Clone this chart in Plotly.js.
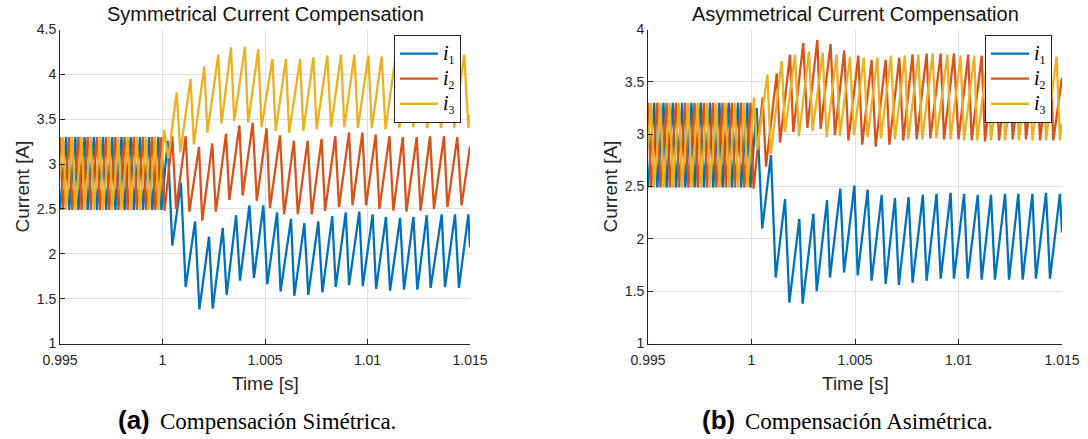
<!DOCTYPE html>
<html>
<head>
<meta charset="utf-8">
<script src="https://cdn.plot.ly/plotly-3.0.1.min.js"></script>
<style>
  html, body { margin: 0; padding: 0; background: #ffffff; }
  #chart { width: 1088px; height: 439px; }
</style>
</head>
<body>
<div id="chart"></div>
<script>
// Steady state before the compensation step at t = 1 s (identical in both cases).
const preTimeI1 = [0.995,0.9953,0.99545,0.99575,0.9959,0.9962,0.99635,0.99665,0.9968,0.9971,0.99725,0.99755,0.9977,0.998,0.99815,0.99845,0.9986,0.9989,0.99905,0.99935,0.9995,0.9998,0.99995];
const preI1     = [2.49,3.30,2.49,3.30,2.49,3.30,2.49,3.30,2.49,3.30,2.49,3.30,2.49,3.30,2.49,3.30,2.49,3.30,2.49,3.30,2.49,3.30,2.49];

const preTimeI2 = [0.995,0.99515,0.99545,0.9956,0.9959,0.99605,0.99635,0.9965,0.9968,0.99695,0.99725,0.9974,0.9977,0.99785,0.99815,0.9983,0.9986,0.99875,0.99905,0.9992,0.9995,0.99965,0.99995,1.0001];
const preI2     = [3.30,2.49,3.30,2.49,3.30,2.49,3.30,2.49,3.30,2.49,3.30,2.49,3.30,2.49,3.30,2.49,3.30,2.49,3.30,2.49,3.30,2.49,3.30,2.48];

const preTimeI3 = [0.995,0.99515,0.9953,0.9956,0.99575,0.99605,0.9962,0.9965,0.99665,0.99695,0.9971,0.9974,0.99755,0.99785,0.998,0.9983,0.99845,0.99875,0.9989,0.9992,0.99935,0.99965,0.9998];
const preI3     = [2.89,3.30,2.49,3.30,2.49,3.30,2.49,3.30,2.49,3.30,2.49,3.30,2.49,3.30,2.49,3.30,2.49,3.30,2.49,3.30,2.49,3.30,2.49];

// Symmetrical compensation, t >= 1 s
const symTimeI1 = [1.00025,1.00048,1.0009,1.00113,1.00159,1.0018,1.00227,1.00245,1.00294,1.00313,1.00359,1.00378,1.00424,1.00446,1.00492,1.00511,1.00559,1.00576,1.00627,1.00643,1.00692,1.00711,1.0076,1.0078,1.00828,1.00845,1.00894,1.0091,1.0096,1.00977,1.01025,1.01042,1.0109,1.0111,1.01159,1.01178,1.01224,1.01243,1.01289,1.01308,1.01362,1.01378,1.01427,1.01446,1.01492,1.015];
const symI1     = [3.26,2.09,2.79,1.63,2.36,1.38,2.19,1.39,2.29,1.54,2.43,1.70,2.54,1.73,2.54,1.66,2.46,1.58,2.39,1.53,2.34,1.54,2.36,1.57,2.42,1.63,2.46,1.65,2.47,1.64,2.44,1.61,2.41,1.59,2.40,1.60,2.41,1.60,2.43,1.62,2.44,1.63,2.44,1.62,2.44,2.07];

const symTimeI2 = [1.00048,1.00066,1.00113,1.00131,1.00178,1.00194,1.00243,1.0026,1.0031,1.00326,1.00375,1.00391,1.0044,1.0046,1.00508,1.00524,1.00573,1.00593,1.00641,1.0066,1.00708,1.00728,1.00776,1.00793,1.00843,1.00861,1.0091,1.00927,1.00975,1.00993,1.0104,1.01058,1.01107,1.01126,1.01172,1.0119,1.0124,1.01259,1.01305,1.01324,1.01373,1.0139,1.01438,1.01459,1.015];
const symI2     = [3.31,2.50,3.31,2.47,3.19,2.37,3.23,2.47,3.34,2.60,3.43,2.65,3.46,2.59,3.40,2.51,3.32,2.44,3.26,2.44,3.26,2.44,3.28,2.48,3.31,2.52,3.35,2.54,3.35,2.54,3.33,2.50,3.31,2.48,3.30,2.47,3.30,2.48,3.31,2.50,3.31,2.52,3.30,2.54,3.20];

const symTimeI3 = [1.00008,1.00028,1.00069,1.00087,1.00137,1.00153,1.00204,1.00219,1.00272,1.00288,1.00334,1.0035,1.00402,1.00418,1.00467,1.00483,1.00536,1.00552,1.00602,1.00618,1.00671,1.00687,1.00736,1.00752,1.00804,1.00822,1.00871,1.00887,1.00936,1.00953,1.01004,1.01021,1.01069,1.01088,1.01137,1.01155,1.01204,1.01223,1.01272,1.01291,1.01337,1.01358,1.01406,1.01423,1.01472,1.01492,1.015];
const symI3     = [3.38,3.06,3.80,3.13,3.95,3.22,4.09,3.35,4.22,3.45,4.30,3.48,4.31,3.46,4.28,3.41,4.17,3.37,4.17,3.35,4.17,3.37,4.19,3.39,4.21,3.41,4.22,3.41,4.22,3.40,4.21,3.40,4.20,3.39,4.20,3.40,4.21,3.41,4.21,3.40,4.22,3.40,4.20,3.40,4.22,3.40,3.55];

// Asymmetrical compensation, t >= 1 s
const asymTimeI1 = [1.00025,1.00052,1.00094,1.00117,1.00162,1.00183,1.00231,1.00247,1.00299,1.00315,1.00365,1.00379,1.00429,1.00447,1.00497,1.00513,1.00561,1.0058,1.00629,1.00648,1.00693,1.00712,1.00759,1.00778,1.00828,1.00846,1.00894,1.00914,1.00962,1.00978,1.01027,1.01044,1.01093,1.01112,1.01157,1.01176,1.01225,1.01244,1.01289,1.0131,1.01357,1.01374,1.01423,1.01442,1.0149,1.015];
const asymI1     = [3.25,2.10,2.80,1.63,2.38,1.39,2.19,1.38,2.24,1.50,2.37,1.63,2.48,1.68,2.51,1.65,2.47,1.60,2.42,1.57,2.39,1.56,2.40,1.58,2.42,1.60,2.43,1.62,2.44,1.62,2.43,1.62,2.42,1.61,2.42,1.61,2.43,1.61,2.43,1.61,2.43,1.62,2.44,1.62,2.43,2.06];

const asymTimeI2 = [1.00054,1.0007,1.00122,1.00138,1.00186,1.00202,1.0025,1.0027,1.00318,1.00334,1.00382,1.00403,1.00448,1.00468,1.00516,1.00535,1.0058,1.006,1.00648,1.00666,1.00714,1.00733,1.00778,1.00798,1.00846,1.00864,1.00914,1.0093,1.00978,1.01,1.01047,1.01064,1.01112,1.01128,1.01176,1.01196,1.01244,1.01262,1.0131,1.01326,1.01374,1.01394,1.01442,1.01458,1.015];
const asymI2     = [3.35,2.69,3.58,2.92,3.76,3.02,3.87,3.06,3.90,3.05,3.86,2.99,3.80,2.94,3.75,2.90,3.71,2.88,3.71,2.90,3.73,2.94,3.76,2.95,3.77,2.96,3.77,2.95,3.77,2.95,3.76,2.94,3.75,2.93,3.76,2.94,3.76,2.95,3.76,2.95,3.76,2.94,3.76,2.94,3.54];

const asymTimeI3 = [1.00012,1.00027,1.00077,1.00093,1.00146,1.00162,1.0021,1.00229,1.00278,1.00295,1.00344,1.00363,1.00411,1.00427,1.00476,1.00495,1.00543,1.00561,1.00608,1.00625,1.00674,1.00693,1.00741,1.00757,1.00806,1.00825,1.00875,1.00893,1.00946,1.00962,1.0101,1.01027,1.01076,1.01091,1.01141,1.01157,1.01208,1.01225,1.01273,1.01292,1.01341,1.01357,1.01406,1.01423,1.01474,1.0149,1.015];
const asymI3     = [3.35,2.85,3.57,2.81,3.70,3.02,3.76,2.98,3.79,3.03,3.78,2.97,3.76,2.98,3.74,2.99,3.73,2.97,3.73,2.96,3.75,2.95,3.75,2.95,3.76,2.95,3.77,2.96,3.76,2.95,3.75,2.94,3.75,2.94,3.74,2.94,3.75,2.94,3.75,2.94,3.74,2.94,3.74,2.94,3.74,2.94,3.10];

// Series names, colours and tick labels
const seriesNames  = [
  '<span style="font-size:20px"><i>i</i></span><sub>1</sub>',
  '<span style="font-size:20px"><i>i</i></span><sub>2</sub>',
  '<span style="font-size:20px"><i>i</i></span><sub>3</sub>'
];
const seriesColors = ['#0072BD', '#D95319', '#EDB120'];
const timeTicks     = [0.995, 1, 1.005, 1.01, 1.015];
const timeTickText  = ['0.995', '1', '1.005', '1.01', '1.015'];
const symCurrentTicks  = [1, 1.5, 2, 2.5, 3, 3.5, 4, 4.5];
const symCurrentText   = ['1', '1.5', '2', '2.5', '3', '3.5', '4', '4.5'];
const asymCurrentTicks = [1, 1.5, 2, 2.5, 3, 3.5, 4];
const asymCurrentText  = ['1', '1.5', '2', '2.5', '3', '3.5', '4'];
const panelTitles   = ['Symmetrical Current Compensation', 'Asymmetrical Current Compensation'];
const panelLetters  = ['(a)', '(b)'];
const panelCaptions = ['Compensación Simétrica.', 'Compensación Asimétrica.'];

const W = 1088, H = 439;
const px = v => v / W;           // horizontal pixel -> paper
const py = v => (H - v) / H;     // vertical pixel (from top) -> paper

const SANS = 'Liberation Sans, Arial, Helvetica, sans-serif';
const SERIF = 'Liberation Serif, Times New Roman, serif';
const INK = '#262626';

const symSeries = [
  [preTimeI1.concat(symTimeI1), preI1.concat(symI1)],
  [preTimeI2.concat(symTimeI2), preI2.concat(symI2)],
  [preTimeI3.concat(symTimeI3), preI3.concat(symI3)]
];
const asymSeries = [
  [preTimeI1.concat(asymTimeI1), preI1.concat(asymI1)],
  [preTimeI2.concat(asymTimeI2), preI2.concat(asymI2)],
  [preTimeI3.concat(asymTimeI3), preI3.concat(asymI3)]
];

const traces = [];
symSeries.forEach((s, k) => traces.push({
  x: s[0], y: s[1], type: 'scatter', mode: 'lines', name: seriesNames[k],
  line: { color: seriesColors[k], width: 2.3 }, xaxis: 'x', yaxis: 'y',
  legend: 'legend', hoverinfo: 'skip'
}));
asymSeries.forEach((s, k) => traces.push({
  x: s[0], y: s[1], type: 'scatter', mode: 'lines', name: seriesNames[k],
  line: { color: seriesColors[k], width: 2.3 }, xaxis: 'x2', yaxis: 'y2',
  legend: 'legend2', hoverinfo: 'skip'
}));

const axisBase = {
  showgrid: true, gridcolor: '#e0e0e0', gridwidth: 1,
  zeroline: false, showline: true, linecolor: INK, linewidth: 1,
  ticks: 'inside', ticklen: 5, tickcolor: INK, tickwidth: 1,
  tickfont: { family: SANS, size: 14, color: INK },
  fixedrange: true
};

const plotTop = 29.5, plotBottom = 343.5;
const leftPanel = [60, 470], rightPanel = [648, 1062];

const legendBase = {
  xanchor: 'right', yanchor: 'top',
  bgcolor: '#ffffff', bordercolor: INK, borderwidth: 1,
  font: { family: SERIF, size: 17, color: '#000000' },
  itemwidth: 38, tracegroupgap: 0
};

const annotations = [];
[leftPanel, rightPanel].forEach((p, k) => {
  const cx = (p[0] + p[1]) / 2;
  annotations.push({ text: panelTitles[k], xref: 'paper', yref: 'paper', x: px(cx), y: py(14),
    xanchor: 'center', yanchor: 'middle', showarrow: false,
    font: { family: SANS, size: 20, color: '#111111' } });
  annotations.push({ text: 'Time [s]', xref: 'paper', yref: 'paper', x: px(cx), y: py(383),
    xanchor: 'center', yanchor: 'middle', showarrow: false,
    font: { family: SANS, size: 19, color: INK } });
  annotations.push({ text: 'Current [A]', xref: 'paper', yref: 'paper', x: px(p[0] - 38),
    y: py((plotTop + plotBottom) / 2), xanchor: 'center', yanchor: 'middle', textangle: -90,
    showarrow: false, font: { family: SANS, size: 19, color: INK } });
});
// sub-figure captions: bold letter followed by a serif description
const captionSplit = [155, 740];
captionSplit.forEach((xs, k) => {
  annotations.push({ text: '<b>' + panelLetters[k] + '</b>', xref: 'paper', yref: 'paper',
    x: px(xs - 3), y: py(420), xanchor: 'right', yanchor: 'middle', showarrow: false,
    font: { family: SANS, size: 26, color: '#000000' } });
  annotations.push({ text: panelCaptions[k], xref: 'paper', yref: 'paper',
    x: px(xs + 3), y: py(421), xanchor: 'left', yanchor: 'middle', showarrow: false,
    font: { family: SERIF, size: 23, color: '#000000' } });
});

const layout = {
  width: W, height: H,
  margin: { l: 0, r: 0, t: 0, b: 0 },
  paper_bgcolor: '#ffffff', plot_bgcolor: '#ffffff',
  showlegend: true,
  xaxis: Object.assign({}, axisBase, { domain: [px(leftPanel[0]), px(leftPanel[1])], range: [0.995, 1.015],
    tickvals: timeTicks, ticktext: timeTickText, anchor: 'y', ticklabelstandoff: 4 }),
  yaxis: Object.assign({}, axisBase, { domain: [py(plotBottom), py(plotTop)], range: [1, 4.5],
    tickvals: symCurrentTicks, ticktext: symCurrentText, anchor: 'x' }),
  xaxis2: Object.assign({}, axisBase, { domain: [px(rightPanel[0]), px(rightPanel[1])], range: [0.995, 1.015],
    tickvals: timeTicks, ticktext: timeTickText, anchor: 'y2', ticklabelstandoff: 4 }),
  yaxis2: Object.assign({}, axisBase, { domain: [py(plotBottom), py(plotTop)], range: [1, 4],
    tickvals: asymCurrentTicks, ticktext: asymCurrentText, anchor: 'x2' }),
  legend: Object.assign({}, legendBase, { x: px(leftPanel[1] - 9), y: py(35) }),
  legend2: Object.assign({}, legendBase, { x: px(rightPanel[1] - 10), y: py(35) }),
  annotations: annotations
};

Plotly.newPlot('chart', traces, layout, { displayModeBar: false, staticPlot: true });
</script>
</body>
</html>
